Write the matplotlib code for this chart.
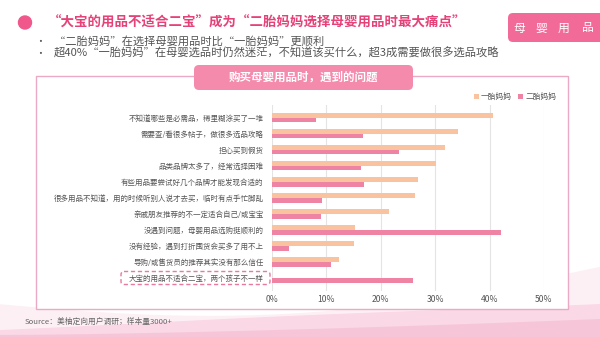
import matplotlib.pyplot as plt
import numpy as np
from matplotlib.patches import FancyBboxPatch, Rectangle, Circle

plt.rcParams['font.family'] = ['Noto Sans CJK SC', 'DejaVu Sans']

# data
categories = [
    '不知道哪些是必需品，稀里糊涂买了一堆',
    '需要查/看很多帖子，做很多选品攻略',
    '担心买到假货',
    '品类品牌太多了，经常选择困难',
    '有些用品要尝试好几个品牌才能发现合适的',
    '很多用品不知道，用的时候听别人说才去买，临时有点手忙脚乱',
    '亲戚朋友推荐的不一定适合自己/或宝宝',
    '没遇到问题，母婴用品选购挺顺利的',
    '没有经验，遇到打折囤货会买多了用不上',
    '导购/或售货员的推荐其实没有那么信任',
    '大宝的用品不适合二宝，两个孩子不一样',
]
first_mom = [40.7, 34.2, 31.8, 30.1, 26.8, 26.2, 21.5, 15.3, 15.0, 12.3, 0.0]
second_mom = [8.0, 16.7, 23.4, 16.4, 16.9, 9.2, 9.0, 42.1, 3.1, 10.9, 25.9]
series_names = ['一胎妈妈', '二胎妈妈']
xticks = [0, 10, 20, 30, 40, 50]

ORANGE = '#f8c39e'
PINK = '#ef83a3'
TITLE = '#e6427a'
GRAY = '#555555'

W, H = 600, 337
fig = plt.figure(figsize=(6, 3.37), dpi=100)

# background layer in pixel coordinates
bg = fig.add_axes([0, 0, 1, 1])
bg.set_xlim(0, W)
bg.set_ylim(H, 0)
bg.axis('off')

xs = np.linspace(0, W, 200)
wave1 = 306 + 16 * np.sin((xs - 20) / W * np.pi * 1.1) - 36 * (xs / W) ** 2
wave2 = 330 - 8 * np.sin(xs / W * np.pi) - 26 * (xs / W) ** 2
wave3 = 335 - 16 * (xs / W) ** 1.5
bg.fill_between(xs, wave1, H, color='#fdf0f5', lw=0)
bg.fill_between(xs, wave2, H, color='#fad8e6', lw=0)
bg.fill_between(xs, wave3, H, color='#f7c5d8', lw=0)

# title block
bg.add_patch(Circle((25, 22.5), 6.5, color='#f0578a'))
bg.text(48, 22.5, '“大宝的用品不适合二宝”成为“二胎妈妈选择母婴用品时最大痛点”',
        fontsize=9.7, fontweight='bold', color=TITLE, va='center', ha='left')
bg.text(40, 41.5, '•', fontsize=7, color=GRAY, va='center', ha='center')
bg.text(54, 41.5, '“二胎妈妈”在选择母婴用品时比“一胎妈妈”更顺利',
        fontsize=8.1, color=GRAY, va='center', ha='left')
bg.text(40, 53.5, '•', fontsize=7, color=GRAY, va='center', ha='center')
bg.text(54, 53.5, '超40%“一胎妈妈”在母婴选品时仍然迷茫，不知道该买什么，超3成需要做很多选品攻略',
        fontsize=8.1, color=GRAY, va='center', ha='left')

# tag box top right
bg.add_patch(FancyBboxPatch((508, 13), 100, 29, boxstyle='round,pad=0,rounding_size=5',
                            fc='#f26a98', ec='none'))
for cx, ch in zip([519, 541, 564, 588], '母婴用品'):
    bg.text(cx, 28, ch, fontsize=8.5, color='white', va='center', ha='center')

# chart panel
bg.add_patch(Rectangle((36, 76), 532, 233, fc='white', ec='#eaa9c4', lw=1))
bg.add_patch(FancyBboxPatch((194, 65), 219, 25, boxstyle='round,pad=0,rounding_size=5',
                            fc='#f48bad', ec='none'))
bg.text(303.5, 77.5, '购买母婴用品时，遇到的问题', fontsize=8.3, fontweight='bold',
        color='white', va='center', ha='center')

# dashed box around last label
bg.add_patch(FancyBboxPatch((121, 271.5), 149, 13, boxstyle='round,pad=0,rounding_size=3',
                            fc='none', ec='#e9799e', lw=1, ls=(0, (3, 2))))

bg.text(25, 322, 'Source：美柚定向用户调研；样本量3000+', fontsize=5.6, color='#666666',
        va='center', ha='left')

# bar chart
left_px, right_px = 272, 544
top_px, bot_px = 104.7, 290.8
ax = fig.add_axes([left_px / W, 1 - bot_px / H, (right_px - left_px) / W, (bot_px - top_px) / H])
ax.set_facecolor('none')

y = np.arange(len(categories))
h = 0.3
b1 = ax.barh(y - 0.15, first_mom, height=h, color=ORANGE, label=series_names[0], zorder=3)
b2 = ax.barh(y + 0.15, second_mom, height=h, color=PINK, label=series_names[1], zorder=3)

ax.set_xlim(0, 50)
ax.set_ylim(len(categories) - 0.2, -0.8)
ax.set_xticks(xticks)
ax.set_xticklabels([f'{t}%' for t in xticks], fontsize=6.2, color=GRAY)
ax.set_yticks(y)
ax.set_yticklabels(categories, fontsize=5.4, color=GRAY)
ax.tick_params(axis='both', length=0)
ax.tick_params(axis='y', pad=6)
ax.tick_params(axis='x', pad=3)
ax.grid(axis='x', color='#e4e4e4', lw=0.8, zorder=0)
for s in ax.spines.values():
    s.set_visible(False)

fig.legend(handles=[b1, b2], loc='center', bbox_to_anchor=(515 / W, 1 - 97 / H), ncol=2,
           frameon=False, fontsize=5.6, handlelength=0.6, handleheight=0.6,
           handletextpad=0.3, columnspacing=0.8, labelcolor=GRAY)

fig.savefig('out.png', dpi=100)
